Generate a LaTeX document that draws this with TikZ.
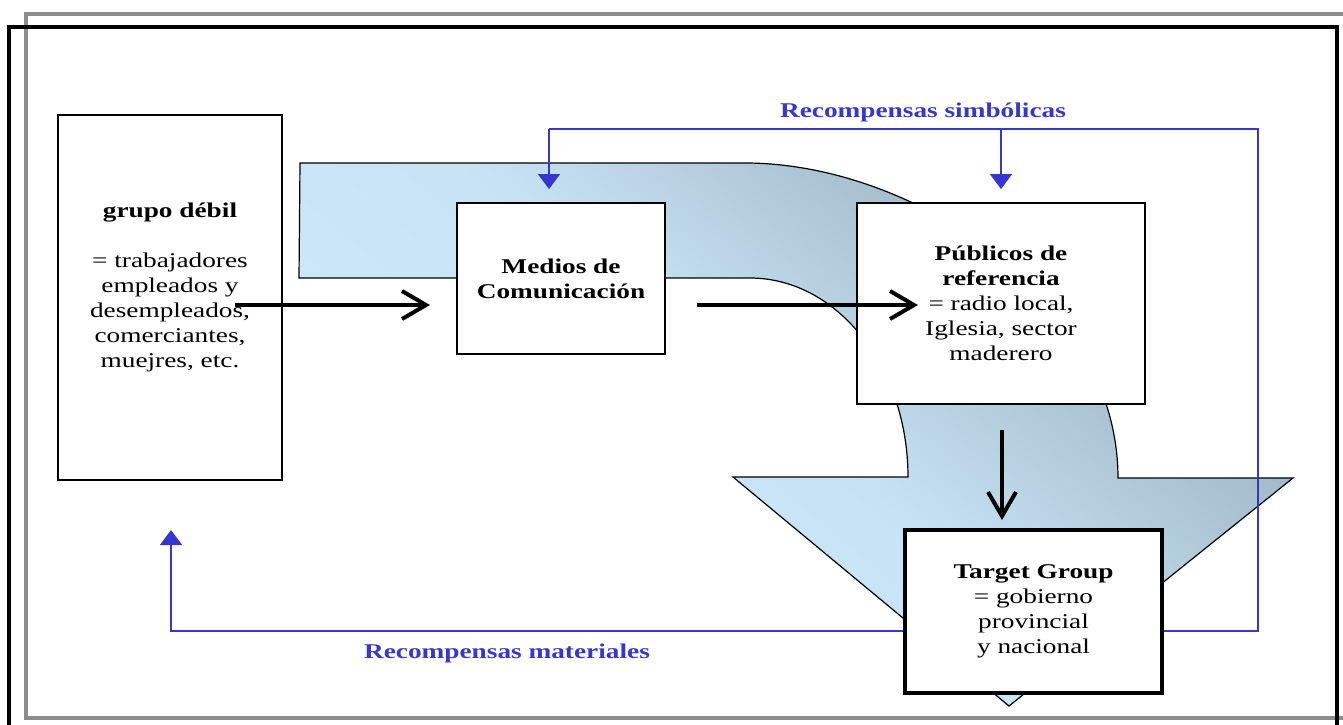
\documentclass[tikz,border=0pt]{standalone}
\usepackage{fontspec}
\setmainfont{Liberation Serif}[FakeStretch=1.3]
\usetikzlibrary{arrows.meta}
\definecolor{rewardblue}{RGB}{55,55,205}
\definecolor{flowlight}{RGB}{208,236,252}
\definecolor{flowdark}{RGB}{150,174,190}
\tikzset{
    box/.style={draw,line width=0.9pt,fill=white,align=center,inner sep=0,
        font=\fontsize{10.5}{12.5}\selectfont},
    target box/.style={box,line width=1.6pt},
    flow/.style={line width=2pt,-{Straight Barb[length=12pt,width=14pt]}},
    reward/.style={rewardblue,line width=0.8pt,-{Triangle[length=7.5pt,width=11pt]}},
    reward label/.style={text=rewardblue,font=\fontsize{10.5}{12.5}\selectfont\bfseries}
    }
\begin{document}
\begin{tikzpicture}[x=0.5pt,y=-0.5pt]
    \useasboundingbox (0,0) rectangle (1343,724);
    \draw[gray!90,line width=1.6pt] (26,14) rectangle (1360,718);
    \draw[line width=1.6pt] (9,27) rectangle (1337,740);
    \draw[top color=flowdark,bottom color=flowlight,middle color=flowlight!85!flowdark,
          shading angle=-40,line width=0.6pt]
        (300,163) -- (745,163) .. controls (915,163) and (1118,300) .. (1118,478)
        -- (1293,478) -- (1009,706) -- (733,477) -- (908,477)
        .. controls (908,367) and (837,278) .. (750,278) -- (299,278) -- cycle;
    \node(grupo)[box,minimum width=112pt,minimum height=182.5pt] at (170,297.5)
        {\textbf{grupo débil}\\[12.5pt] = trabajadores\\ empleados y\\ desempleados,\\ comerciantes,\\ muejres, etc.\\ \mbox{}};
    \node(medios)[box,minimum width=104pt,minimum height=75.5pt] at (561,278.5)
        {\textbf{Medios de}\\ \textbf{Comunicación}};
    \node(publicos)[box,minimum width=144pt,minimum height=100.5pt] at (1001,303.5)
        {\textbf{Públicos de}\\ \textbf{referencia}\\ = radio local,\\ Iglesia, sector\\ maderero};
    \node(target)[target box,minimum width=128.5pt,minimum height=81.5pt] at (1033.5,611.5)
        {\textbf{Target Group}\\ = gobierno\\ provincial\\ y nacional};
    \coordinate (rtop) at (1258,129);
    \coordinate (rbot) at (1258,631);
    \coordinate (mtop) at (549,129);
    \coordinate (lbot) at (171,631);
    \coordinate (ltip) at (171,530);
    \draw[reward,-] (target.east |- rbot) -- (rbot) -- (rtop) -- (mtop);
    \draw[reward,shorten >=6.5pt] (mtop) -- (mtop |- medios.north);
    \draw[reward,shorten >=6.5pt] (publicos.north |- rtop) -- (publicos.north);
    \draw[reward] (target.west |- rbot) -- (lbot) -- (ltip);
    \node(simb)[reward label] at (923,112) {Recompensas simbólicas};
    \node(mat)[reward label] at (507,653) {Recompensas materiales};
    \coordinate (f1) at (235,305);
    \coordinate (f2) at (430,305);
    \coordinate (f3) at (697,305);
    \coordinate (f4) at (918,305);
    \coordinate (f5) at (1002,430);
    \coordinate (f6) at (1002,520);
    \draw[flow] (f1) -- (f2);
    \draw[flow] (f3) -- (f4);
    \draw[flow] (f5) -- (f6);
\end{tikzpicture}
\end{document}
